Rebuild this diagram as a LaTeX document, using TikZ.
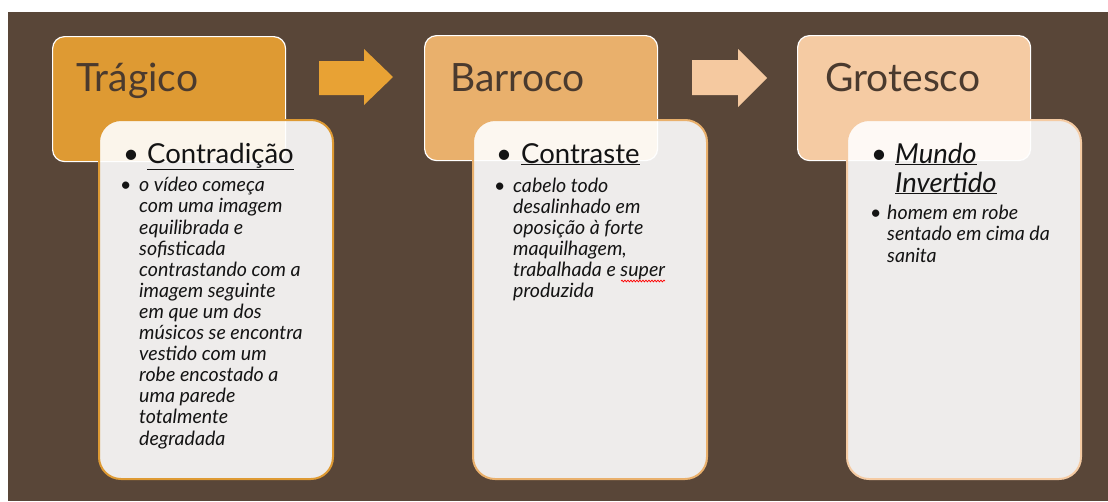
\documentclass[tikz,border=0pt]{standalone}
\usepackage{fontspec}
\setmainfont{Lato}
\usetikzlibrary{positioning,decorations.pathmorphing}
\definecolor{fundo}{HTML}{594638}
\definecolor{laranjaA}{HTML}{DE9A33}
\definecolor{laranjaB}{HTML}{E9B06C}
\definecolor{laranjaC}{HTML}{F5CBA3}
\definecolor{setaA}{HTML}{E8A234}
\definecolor{setaB}{HTML}{F5C9A0}
\definecolor{castanho}{HTML}{4A3A2E}
\definecolor{preto}{HTML}{141414}
\tikzset{
  cabeca/.style={draw=white, line width=1.2pt, rounded corners=12pt, minimum width=233pt, minimum height=125pt, anchor=north west, inner sep=0pt},
  caixa/.style={fill=white, fill opacity=0.9, line width=2pt, rounded corners=22pt, minimum width=234pt, minimum height=359pt, anchor=north west, inner sep=0pt},
  titulo/.style={text=castanho, font=\fontsize{39}{44}\selectfont, anchor=base west, inner sep=0pt},
  topico/.style={text=preto, font=\fontsize{27.5}{29}\selectfont, anchor=base west, inner sep=0pt, align=left},
  texto/.style={text=preto, font=\fontsize{19.6}{21.1}\selectfont\itshape, anchor=base west, inner sep=0pt, align=left},
}
\newcommand{\bola}[1]{\makebox[#1][l]{\textbullet}}
\begin{document}
\begin{tikzpicture}[x=1pt,y=-1pt]
\useasboundingbox (0,0) rectangle (1108,501);
\fill[fundo] (8,12) rectangle (1108,501);
% setas
\fill[setaA] (319,61)--(364,61)--(364,49)--(393,77)--(364,105)--(364,95)--(319,95)--cycle;
\fill[setaB] (692,60)--(738,60)--(738,49)--(767,78)--(738,107)--(738,95)--(692,95)--cycle;
% cabecas
\node[cabeca, fill=laranjaA] (tragico) at (52,36) {};
\node[cabeca, fill=laranjaB] (barroco) at (424,35) {};
\node[cabeca, fill=laranjaC] (grotesco) at (797,35) {};
\node[titulo] (tragicoT) at ([shift={(24,55)}]tragico.north west) {Trágico};
\node[titulo] (barrocoT) at ([shift={(26,56)}]barroco.north west) {Barroco};
\node[titulo] (grotescoT) at ([shift={(28,56)}]grotesco.north west) {Grotesco};
% caixas de texto
\node[caixa, draw=laranjaA] (contradicao) at (98,119) {};
\node[caixa, draw=laranjaB] (contraste) at (472,119) {};
\node[caixa, draw=laranjaC] (mundo) at (846,119) {};
\node[topico] (contradicaoT) at ([shift={(25,44)}]contradicao.north west) {\bola{24pt}\underline{Contradição}};
\node[topico] (contrasteT) at ([shift={(24,44)}]contraste.north west) {\bola{25pt}\underline{Contraste}};
\node[topico] (mundoT) at ([shift={(25,73)}]mundo.north west) {\bola{24pt}\underline{\itshape Mundo}\\\hspace*{24pt}\underline{\itshape Invertido}};
% base = ultima linha
\node[texto] (contradicaoX) at ([shift={(22,326)}]contradicao.north west) {\bola{19pt}o vídeo começa\\\hspace*{19pt}com uma imagem\\\hspace*{19pt}equilibrada e\\\hspace*{19pt}sofisticada\\\hspace*{19pt}contrastando com a\\\hspace*{19pt}imagem seguinte\\\hspace*{19pt}em que um dos\\\hspace*{19pt}músicos se encontra\\\hspace*{19pt}vestido com um\\\hspace*{19pt}robe encostado a\\\hspace*{19pt}uma parede\\\hspace*{19pt}totalmente\\\hspace*{19pt}degradada};
\node[texto] (contrasteX) at ([shift={(22,178.5)}]contraste.north west) {\bola{19pt}cabelo todo\\\hspace*{19pt}desalinhado em\\\hspace*{19pt}oposição à forte\\\hspace*{19pt}maquilhagem,\\\hspace*{19pt}trabalhada e super\\\hspace*{19pt}produzida};
\node[texto] (mundoX) at ([shift={(24,143)}]mundo.north west) {\bola{17pt}homem em robe\\\hspace*{17pt}sentado em cima da\\\hspace*{17pt}sanita};
\draw[red, line width=0.7pt, decorate, decoration={snake, amplitude=0.9pt, segment length=3pt}] (621,281) -- (665,281);
\end{tikzpicture}
\end{document}
